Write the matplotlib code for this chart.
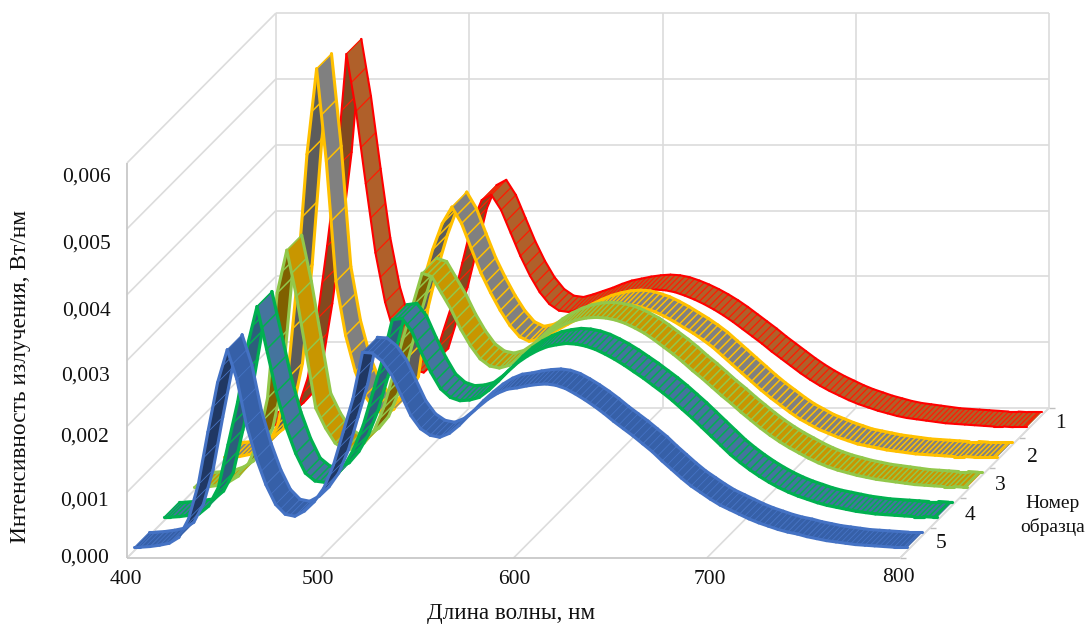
import numpy as np
import matplotlib
matplotlib.use("Agg")
import matplotlib.pyplot as plt
from matplotlib.collections import PolyCollection, LineCollection

plt.rcParams['font.family'] = ['Liberation Serif', 'DejaVu Serif']

W, H = 1089, 625

wavelength = np.r_[400, np.arange(403, 799, 5), 800]

# intensity, 1e-3 W/nm
sample_1 = [.05,.05,.06,.09,.19,.35,.80,1.70,2.80,4.00,
            5.72,4.85,3.75,2.70,1.95,1.45,1.12,.92,.88,1.02,
            1.50,1.95,2.55,3.15,3.50,3.58,3.35,3.00,2.65,2.35,
            2.10,1.92,1.82,1.80,1.84,1.89,1.94,2.00,2.05,2.08,
            2.11,2.13,2.14,2.13,2.10,2.05,1.99,1.92,1.84,1.75,
            1.65,1.54,1.43,1.32,1.20,1.09,.98,.87,.77,.68,
            .60,.53,.46,.40,.35,.30,.26,.22,.19,.17,
            .15,.13,.11,.10,.09,.08,.07,.06,.06,.05,
            .05,.05]
sample_2 = [.05,.05,.06,.09,.14,.25,.55,1.25,2.75,4.65,
            5.95,4.55,2.72,1.90,1.35,.98,.78,.70,.78,1.05,
            2.10,2.70,3.20,3.60,3.85,3.60,3.22,2.85,2.55,2.28,
            2.05,1.88,1.81,1.84,1.91,1.99,2.07,2.15,2.22,2.28,
            2.32,2.35,2.36,2.35,2.31,2.26,2.19,2.11,2.02,1.93,
            1.83,1.72,1.59,1.46,1.33,1.20,1.07,.95,.84,.73,
            .63,.55,.47,.41,.35,.30,.25,.22,.19,.16,
            .14,.12,.10,.09,.08,.07,.06,.06,.05,.05,
            .05,.05]
sample_3 = [.05,.05,.06,.08,.13,.22,.40,.72,1.40,3.00,
            3.65,2.95,2.10,1.25,.95,.72,.62,.63,.72,.90,
            1.25,1.75,2.30,2.80,3.30,3.25,3.00,2.75,2.45,2.20,
            2.00,1.89,1.86,1.90,2.00,2.13,2.26,2.38,2.47,2.54,
            2.59,2.62,2.63,2.62,2.59,2.54,2.47,2.39,2.29,2.18,
            2.07,1.95,1.82,1.70,1.57,1.44,1.32,1.19,1.07,.95,
            .84,.74,.65,.57,.49,.42,.36,.31,.27,.23,
            .20,.17,.15,.13,.11,.09,.08,.07,.06,.06,
            .05,.05]
sample_4 = [.05,.05,.06,.08,.10,.22,.50,1.15,1.80,2.65,
            3.25,2.60,1.95,1.42,1.02,.72,.60,.58,.65,.82,
            1.08,1.45,1.95,2.45,3.05,3.07,2.88,2.55,2.25,2.00,
            1.87,1.82,1.83,1.87,1.98,2.12,2.27,2.40,2.50,2.58,
            2.64,2.67,2.69,2.68,2.65,2.60,2.53,2.45,2.36,2.26,
            2.16,2.05,1.94,1.82,1.69,1.56,1.42,1.28,1.14,1.00,
            .88,.77,.67,.58,.50,.43,.37,.32,.27,.23,
            .20,.17,.14,.12,.10,.09,.08,.07,.06,.06,
            .05,.05]
sample_5 = [.05,.05,.06,.08,.11,.20,.48,1.00,1.80,2.55,
            3.05,2.60,1.90,1.40,1.00,.70,.55,.52,.60,.74,
            .95,1.30,1.80,2.30,3.01,3.00,2.88,2.67,2.36,2.05,
            1.85,1.75,1.72,1.78,1.90,2.05,2.18,2.30,2.39,2.45,
            2.47,2.50,2.52,2.53,2.51,2.46,2.38,2.29,2.19,2.08,
            1.96,1.85,1.74,1.62,1.50,1.36,1.23,1.10,.98,.88,
            .78,.69,.62,.55,.48,.42,.37,.32,.28,.25,
            .21,.18,.15,.13,.11,.09,.08,.07,.06,.05,
            .05,.05]

series_names = ["1", "2", "3", "4", "5"]
series_values = [sample_1, sample_2, sample_3, sample_4, sample_5]
edge_colors = ["#FF0000", "#FFC000", "#92C84A", "#00B050", "#4472C4"]
top_colors = ["#B0602A", "#808080", "#C89600", "#44749E", "#3660A8"]
under_colors = ["#82491F", "#5C5C5C", "#806000", "#2C5F7C", "#203864"]
edge_widths = [1.5, 2.2, 2.2, 2.3, 2.2]
rib_widths = [0.9, 1.1, 1.1, 1.1, 0.6]
rib_colors = ["#FF1A00", "#FFC000", "#92C84A", "#00B050", "#4472C4"]

y_ticks = [0, 1, 2, 3, 4, 5, 6]
x_ticks = [400, 500, 600, 700, 800]
y_tick_labels = ["0,000", "0,001", "0,002", "0,003", "0,004", "0,005", "0,006"]

fig = plt.figure(figsize=(W / 100, H / 100), dpi=100, facecolor="white")
ax = fig.add_axes([0, 0, 1, 1])
ax.axis("off")

# scale: px per nm, px per unit
sx = (900 - 127) / 400
sy = (558 - 163) / 6
ax.set_xlim(400 - 127 / sx, 400 + (W - 127) / sx)
ax.set_ylim(-(H - 558) / sy, 558 / sy)
DX = 149 / sx   # depth 0..1 in x data units
DY = 150 / sy   # depth 0..1 in y data units


def P(w, v, d):
    return np.asarray(w, float) + d * DX, np.asarray(v, float) + d * DY


grid_c = "#DCDCDC"
wall_c = "#C8C8C8"
segs = []
for t in y_ticks:
    x0, y0 = P(400, t, 0); x1, y1 = P(400, t, 1); x2, y2 = P(800, t, 1)
    segs.append([(x0, y0), (x1, y1)])
    segs.append([(x1, y1), (x2, y2)])
for t in x_ticks:
    x0, y0 = P(t, 0, 0); x1, y1 = P(t, 0, 1); x2, y2 = P(t, 6, 1)
    segs.append([(x0, y0), (x1, y1)])
    segs.append([(x1, y1), (x2, y2)])
ax.add_collection(LineCollection(segs, colors=grid_c, linewidths=1.2, zorder=1))
x0, y0 = P(400, 0, 0); x1, y1 = P(400, 6, 0); x2, y2 = P(800, 0, 0)
ax.add_collection(LineCollection([[(x0, y0), (x1, y1)], [(x0, y0), (x2, y2)]],
                                 colors=wall_c, linewidths=1.3, zorder=1))
# depth axis ticks
tk = []
for k in range(6):
    d = k / 5
    x0, y0 = P(800, 0, d)
    tk.append([(x0, y0), (x0 + 6 / sx, y0)])
ax.add_collection(LineCollection(tk, colors="#BFBFBF", linewidths=1, zorder=1))
x0, y0 = P(800, 0, 0); x1, y1 = P(800, 0, 1)
ax.add_collection(LineCollection([[(x0, y0), (x1, y1)]], colors=grid_c, linewidths=1.2, zorder=1))

half = 0.05
z = 5
for idx in range(5):
    vals = np.asarray(series_values[idx], float)
    dc = 0.9 - 0.2 * idx
    fx, fy = P(wavelength, vals, dc - half)
    bx, by = P(wavelength, vals, dc + half)
    # screen facing: compare segment slope (px) with depth direction
    dpx = np.diff(fx) * sx
    dpy = np.diff(fy) * sy
    under = dpy * 149 - dpx * 150 > 0
    for mask, col in ((under, under_colors[idx]), (~under, top_colors[idx])):
        ii = np.where(mask)[0]
        quads = [[(fx[i], fy[i]), (fx[i + 1], fy[i + 1]), (bx[i + 1], by[i + 1]), (bx[i], by[i])] for i in ii]
        ax.add_collection(PolyCollection(quads, facecolors=col, edgecolors=col, linewidths=0.3, zorder=z))
        z += 1
        ribs = []
        for i in ii:
            ribs.append([(fx[i], fy[i]), (bx[i], by[i])])
            ribs.append([((fx[i] + fx[i + 1]) / 2, (fy[i] + fy[i + 1]) / 2),
                         ((bx[i] + bx[i + 1]) / 2, (by[i] + by[i + 1]) / 2)])
        ax.add_collection(LineCollection(ribs, colors=rib_colors[idx], linewidths=rib_widths[idx], zorder=z))
        z += 1
        edges = []
        for i in ii:
            edges.append([(fx[i], fy[i]), (fx[i + 1], fy[i + 1])])
            edges.append([(bx[i], by[i]), (bx[i + 1], by[i + 1])])
        ax.add_collection(LineCollection(edges, colors=edge_colors[idx], linewidths=edge_widths[idx],
                                         capstyle="round", zorder=z))
        z += 1


def px(x, y):
    return 400 + (x - 127) / sx, (558 - y) / sy


fs = 15.5
tc = "#111111"
ytl_pos = [(109, 558), (109, 501), (109, 437), (110, 376), (111, 311), (111, 244), (111, 177)]
for s, (a, b) in zip(y_tick_labels, ytl_pos):
    ax.text(*px(a, b), s, ha="right", va="center", fontsize=fs, color=tc)
xtl_pos = [(126, 580), (318, 579), (514, 579), (710, 579), (898, 578)]
for t, (a, b) in zip(x_ticks, xtl_pos):
    ax.text(*px(a, b), str(t), ha="center", va="center", fontsize=fs, color=tc)
ztl_pos = [(1060, 423), (1032, 457), (1000, 486), (970, 516), (941, 544)]
for s, (a, b) in zip(series_names, ztl_pos):
    ax.text(*px(a, b), s, ha="center", va="center", fontsize=fs, color=tc)
ax.text(*px(21, 376), "Интенсивность излучения, Вт/нм", rotation=90, ha="center", va="center", fontsize=16.8, color=tc)
ax.text(*px(511, 614), "Длина волны, нм", ha="center", va="center", fontsize=16.6, color=tc)
ax.text(*px(1053, 504), "Номер", ha="center", va="center", fontsize=14, color=tc)
ax.text(*px(1053, 527), "образца", ha="center", va="center", fontsize=14, color=tc)

fig.savefig("out.png", dpi=100, facecolor="white")
